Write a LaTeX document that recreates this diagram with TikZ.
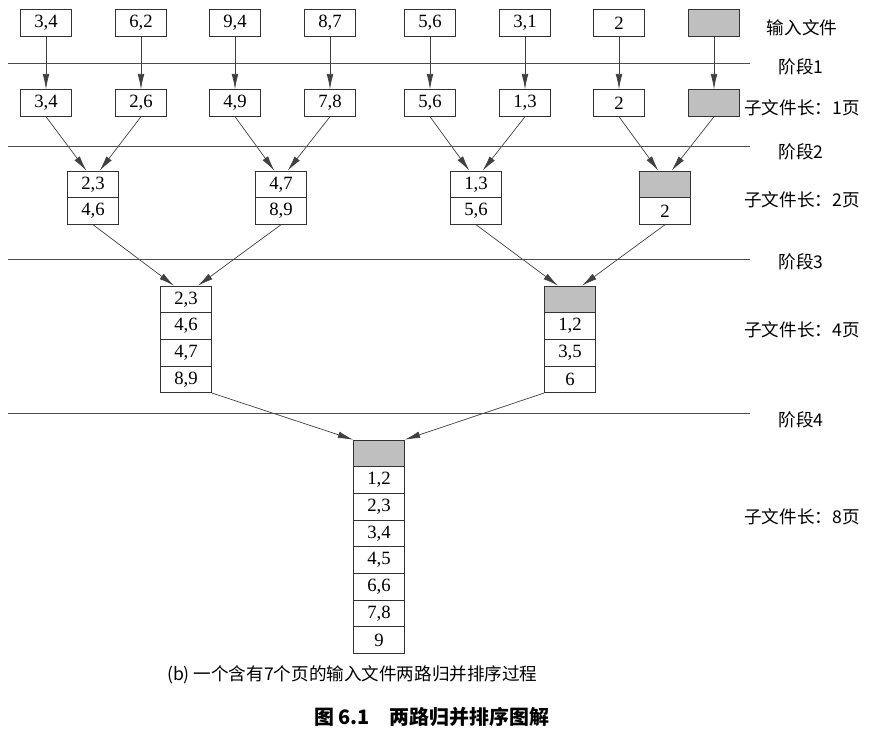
\documentclass[tikz,border=0pt]{standalone}
\usepackage{fontspec}
\setmainfont{Liberation Serif}
\newfontfamily\cjk{Noto Sans CJK SC}
\usetikzlibrary{arrows.meta}

\begin{document}
\begin{tikzpicture}[
  font=\fontsize{16}{18}\selectfont,
  >={Latex[length=4.6mm,width=2mm]},
  cell/.style={draw=black!80, line width=.6pt, minimum width=1.53cm, minimum height=.8cm, inner sep=0pt},
  blank/.style={cell, fill=black!25},
  stage/.style={black!70, line width=.6pt},
  link/.style={black!75, line width=.6pt, ->},
  lbl/.style={font=\cjk\fontsize{15}{17}\selectfont}
]
\useasboundingbox (0,0) rectangle (26.28,-22.05);

% input file and the runs after stage 1
\foreach \x/\t [count=\i] in {1.38/{3,4},4.23/{6,2},7.05/{9,4},9.90/{8,7},12.90/{5,6},15.75/{3,1},18.57/2}
  \node[cell] (in\i) at (\x,-.69) {\t};
\node[blank] (in8) at (21.42,-.69) {};
\foreach \x/\t [count=\i] in {1.38/{3,4},4.23/{2,6},7.05/{4,9},9.90/{7,8},12.90/{5,6},15.75/{1,3},18.57/2}
  \node[cell] (s\i) at (\x,-3.09) {\t};
\node[blank] (s8) at (21.42,-3.09) {};
\foreach \i in {1,...,8}
  \draw[link] (in\i.south) -- (s\i.north);

% two pages
\foreach \x/\t/\b [count=\i] in {2.79/{2,3}/{4,6},8.43/{4,7}/{8,9},14.28/{1,3}/{5,6}} {
  \node[cell] (p\i t) at (\x,-5.53) {\t};
  \node[cell] (p\i b) at (\x,-6.33) {\b};
}
\node[blank] (p4t) at (19.95,-5.53) {};
\node[cell] (p4b) at (19.95,-6.33) {2};
\foreach \i/\j/\d in {1/1/-.2,2/1/.2,3/2/-.2,4/2/.2,5/3/-.2,6/3/.2,7/4/-.2,8/4/.2}
  \draw[link] (s\i.south) -- ([xshift=\d cm]p\j t.north);

% four pages
\foreach \t [count=\k] in {{2,3},{4,6},{4,7},{8,9}}
  \node[cell] (q1-\k) at (5.58,{-8.18-.8*\k}) {\t};
\node[blank] (q2-1) at (17.10,-8.98) {};
\foreach \t [count=\k from 2] in {{1,2},{3,5},6}
  \node[cell] (q2-\k) at (17.10,{-8.18-.8*\k}) {\t};
\draw[link] (p1b.south) -- ([xshift=-.36cm]q1-1.north);
\draw[link] (p2b.south) -- ([xshift=.36cm]q1-1.north);
\draw[link] (p3b.south) -- ([xshift=-.36cm]q2-1.north);
\draw[link] (p4b.south) -- ([xshift=.36cm]q2-1.north);

% eight pages
\node[blank] (r-1) at (11.37,-13.6) {};
\foreach \t [count=\k from 2] in {{1,2},{2,3},{3,4},{4,5},{6,6},{7,8},9}
  \node[cell] (r-\k) at (11.37,{-12.8-.8*\k}) {\t};
\draw[link] (q1-4.south east) -- (r-1.north west);
\draw[link] (q2-4.south west) -- (r-1.north east);

% stages and run lengths
\foreach \y/\l [count=\i] in {-1.89/-2.01,-4.38/-4.56,-7.77/-7.86,-12.39/-12.6} {
  \draw[stage] (.24,\y) -- (22.5,\y);
  \node[lbl] (stage\i) at (24.03,\l) {阶段\i};
}
\node[lbl] (infile) at (24.06,-.84) {输入文件};
\foreach \y/\n [count=\i] in {-3.24/1,-6.0/2,-9.9/4,-15.51/8}
  \node[lbl] (len\i) at (24.06,\y) {子文件长：\n 页};

\node[lbl, anchor=west] (sub) at (4.89,-20.25) {(b) 一个含有7个页的输入文件两路归并排序过程};
\node[lbl, font=\cjk\bfseries\fontsize{17}{19}\selectfont, anchor=west] (title) at (9.3,-21.51) {图 6.1\quad 两路归并排序图解};
\end{tikzpicture}
\end{document}
